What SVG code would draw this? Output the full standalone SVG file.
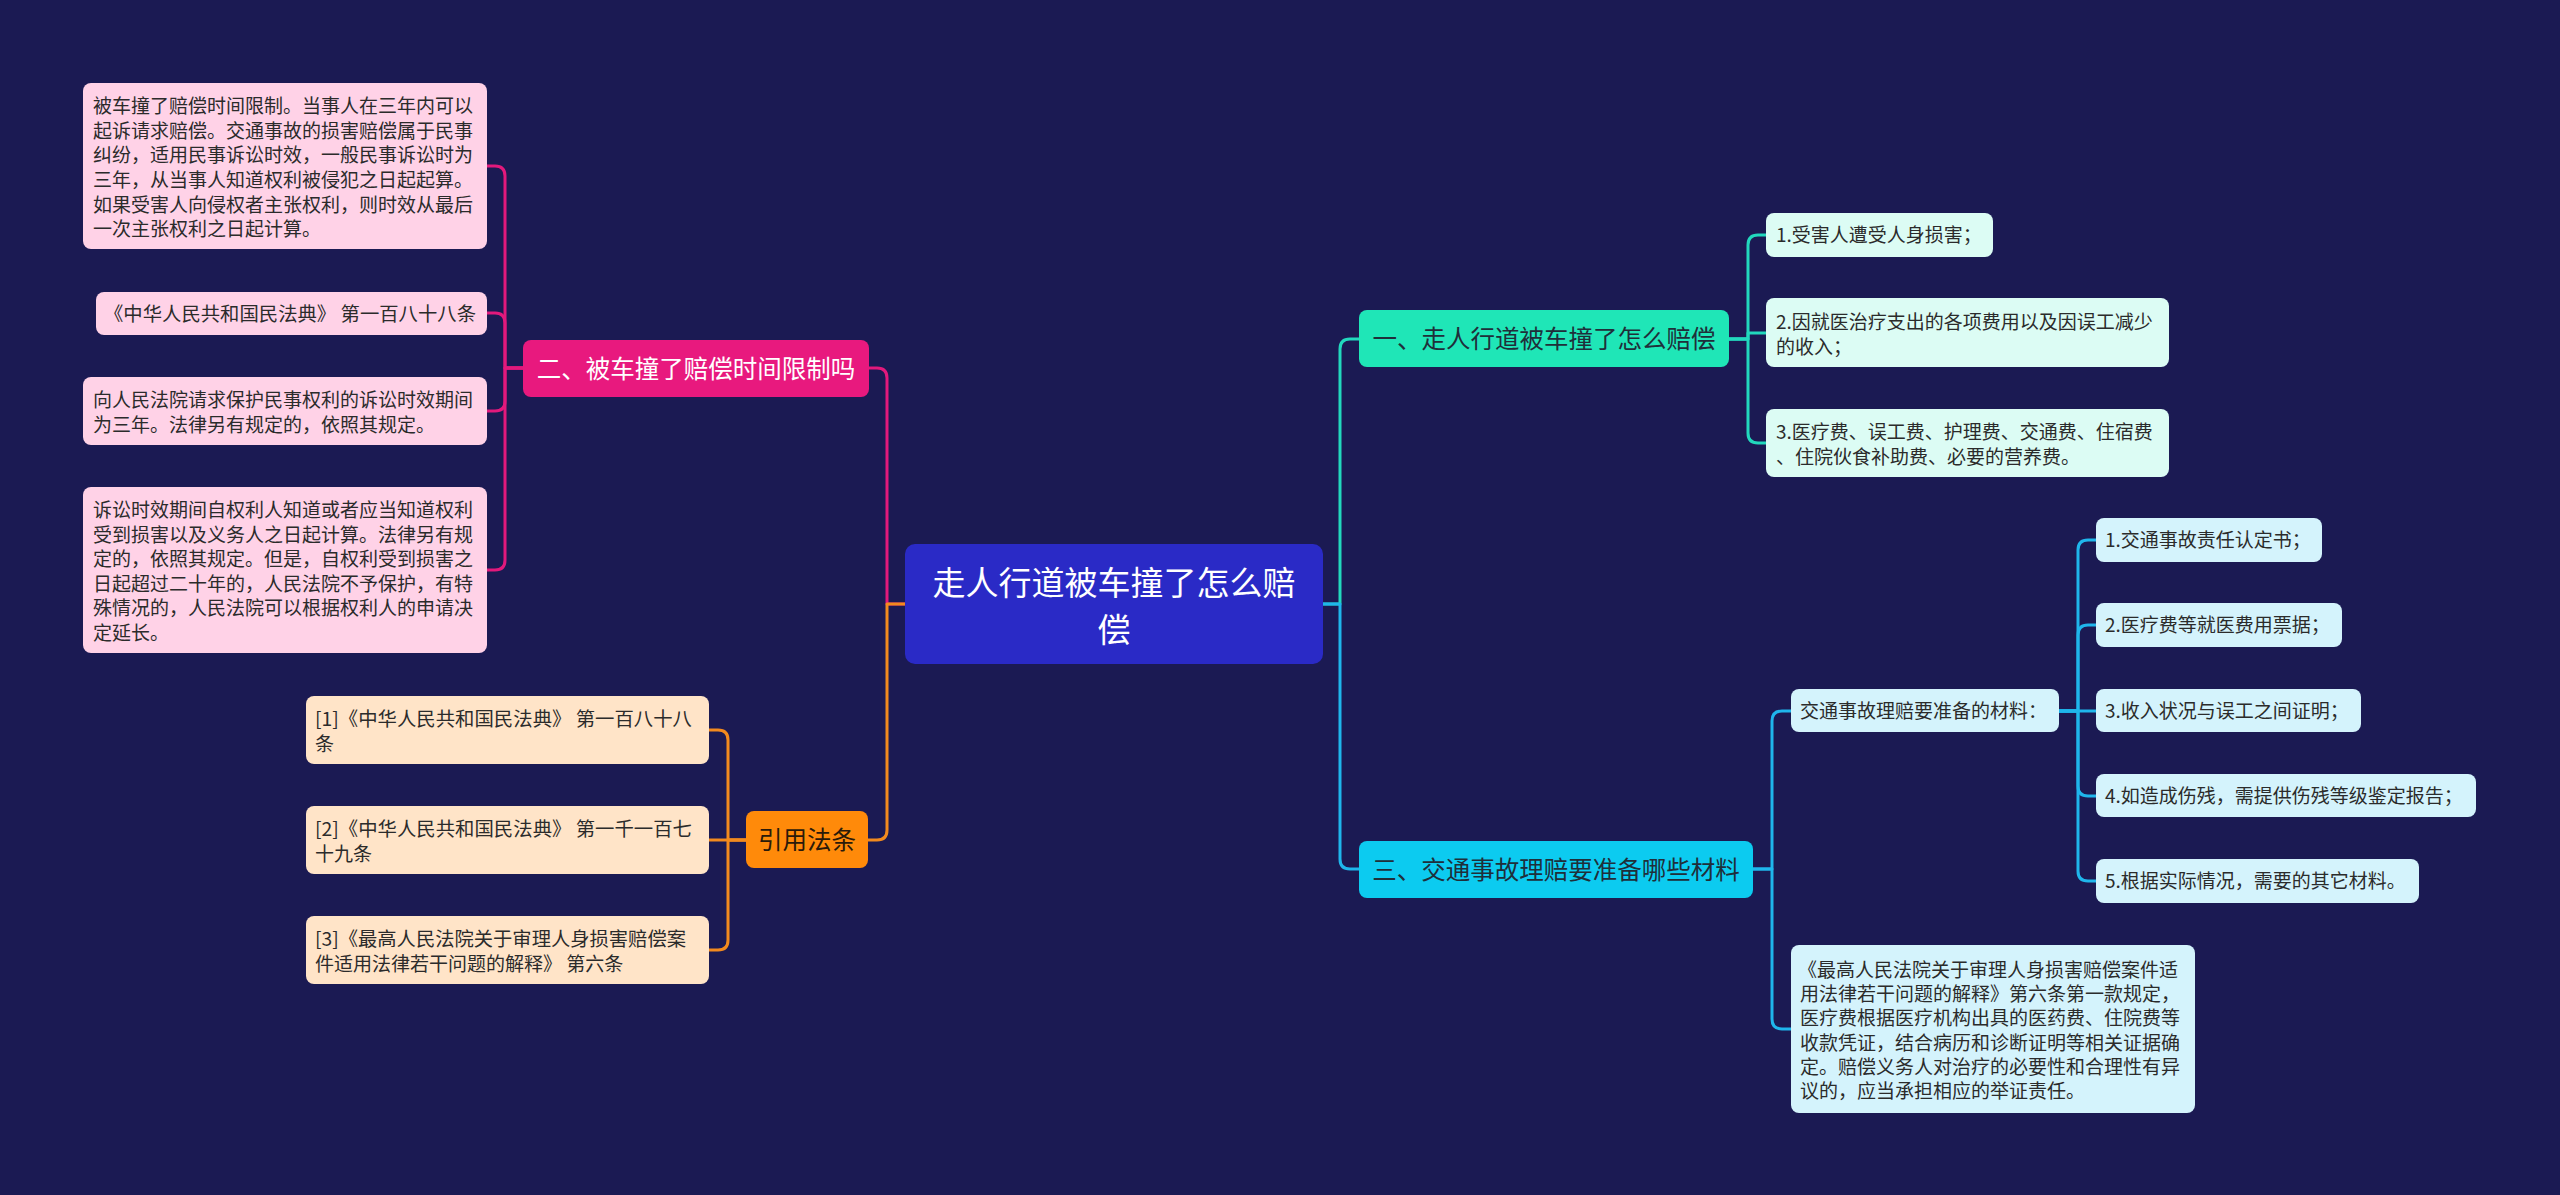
<svg xmlns="http://www.w3.org/2000/svg" width="2560" height="1195" viewBox="0 0 2560 1195">
<style>
  text { font-family: "Noto Sans CJK SC", "Noto Sans", sans-serif; }
  .c { fill: none; stroke-width: 3; stroke-linejoin: round; stroke-linecap: round; }
  .mg { stroke: #e2197c; }
  .or { stroke: #f28a1e; }
  .tl { stroke: #22d8bd; }
  .bl { stroke: #1fb6ec; }
  .t19 { font-size: 19px; fill: #2b2b2b; }
  .big { font-size: 24.5px; text-anchor: middle; }
  .pink { fill: #ffd2e7; }
  .peach { fill: #ffe4c8; }
  .mint { fill: #dcfcf4; }
  .sky { fill: #d4f3fc; }
</style>
<rect x="0" y="0" width="2560" height="1195" fill="#1b1a53"/>

<g id="connectors">
  <path class="c mg" d="M905,604 H887 V378 Q887,368 877,368 H869"/>
  <path class="c or" d="M905,604 H887 V830 Q887,840 877,840 H868"/>
  <path class="c tl" d="M1323,604 H1340 V349 Q1340,339 1350,339 H1359"/>
  <path class="c bl" d="M1323,604 H1340 V859 Q1340,869 1350,869 H1359"/>

  <path class="c mg" d="M523,368 H505 V176 Q505,166 495,166 H487"/>
  <path class="c mg" d="M523,368 H505 V323 Q505,313 495,313 H487"/>
  <path class="c mg" d="M523,368 H505 V401 Q505,411 495,411 H487"/>
  <path class="c mg" d="M523,368 H505 V560 Q505,570 495,570 H487"/>

  <path class="c or" d="M746,840 H728 V740 Q728,730 718,730 H709"/>
  <path class="c or" d="M746,840 H709"/>
  <path class="c or" d="M746,840 H728 V940 Q728,950 718,950 H709"/>

  <path class="c tl" d="M1729,339 H1748 V245 Q1748,235 1758,235 H1766"/>
  <path class="c tl" d="M1729,339 H1748 V333 H1766"/>
  <path class="c tl" d="M1729,339 H1748 V433 Q1748,443 1758,443 H1766"/>

  <path class="c bl" d="M1753,869 H1772 V721 Q1772,711 1782,711 H1791"/>
  <path class="c bl" d="M1753,869 H1772 V1019 Q1772,1029 1782,1029 H1791"/>

  <path class="c bl" d="M2059,711 H2078 V550 Q2078,540 2088,540 H2096"/>
  <path class="c bl" d="M2059,711 H2078 V635 Q2078,625 2088,625 H2096"/>
  <path class="c bl" d="M2059,711 H2096"/>
  <path class="c bl" d="M2059,711 H2078 V786 Q2078,796 2088,796 H2096"/>
  <path class="c bl" d="M2059,711 H2078 V871 Q2078,881 2088,881 H2096"/>
</g>

<g id="root">
  <rect x="905" y="544" width="418" height="120" rx="10" fill="#2a2ac6"/>
  <text x="1114" y="595" font-size="33" fill="#ffffff" text-anchor="middle">走人行道被车撞了怎么赔</text>
  <text x="1114" y="642" font-size="33" fill="#ffffff" text-anchor="middle">偿</text>
</g>

<g id="b2">
  <rect x="523" y="340" width="346" height="57" rx="8" fill="#e8197e"/>
  <text class="big" x="696" y="377.5" fill="#ffffff">二、被车撞了赔偿时间限制吗</text>
</g>
<g id="b2c1">
  <rect class="pink" x="83" y="83" width="404" height="166" rx="8"/>
  <text class="t19" x="93" y="113.2">被车撞了赔偿时间限制。当事人在三年内可以</text>
  <text class="t19" x="93" y="137.8">起诉请求赔偿。交通事故的损害赔偿属于民事</text>
  <text class="t19" x="93" y="162.4">纠纷，适用民事诉讼时效，一般民事诉讼时为</text>
  <text class="t19" x="93" y="187">三年，从当事人知道权利被侵犯之日起起算。</text>
  <text class="t19" x="93" y="211.6">如果受害人向侵权者主张权利，则时效从最后</text>
  <text class="t19" x="93" y="236.2">一次主张权利之日起计算。</text>
</g>
<g id="b2c2">
  <rect class="pink" x="96" y="292" width="391" height="43" rx="8"/>
  <text class="t19" x="104" y="320.5" textLength="372" lengthAdjust="spacingAndGlyphs">《中华人民共和国民法典》 第一百八十八条</text>
</g>
<g id="b2c3">
  <rect class="pink" x="83" y="377" width="404" height="68" rx="8"/>
  <text class="t19" x="93" y="407">向人民法院请求保护民事权利的诉讼时效期间</text>
  <text class="t19" x="93" y="431.5">为三年。法律另有规定的，依照其规定。</text>
</g>
<g id="b2c4">
  <rect class="pink" x="83" y="487" width="404" height="166" rx="8"/>
  <text class="t19" x="93" y="517">诉讼时效期间自权利人知道或者应当知道权利</text>
  <text class="t19" x="93" y="541.5">受到损害以及义务人之日起计算。法律另有规</text>
  <text class="t19" x="93" y="566">定的，依照其规定。但是，自权利受到损害之</text>
  <text class="t19" x="93" y="590.5">日起超过二十年的，人民法院不予保护，有特</text>
  <text class="t19" x="93" y="615">殊情况的，人民法院可以根据权利人的申请决</text>
  <text class="t19" x="93" y="639.5">定延长。</text>
</g>

<g id="ref">
  <rect x="746" y="811" width="122" height="57" rx="8" fill="#ff8a0a"/>
  <text class="big" x="807" y="848.5" fill="#2a1a0a">引用法条</text>
</g>
<g id="ref1">
  <rect class="peach" x="306" y="696" width="403" height="68" rx="8"/>
  <text class="t19" x="315" y="726" textLength="377" lengthAdjust="spacingAndGlyphs">[1]《中华人民共和国民法典》 第一百八十八</text>
  <text class="t19" x="315" y="750.5">条</text>
</g>
<g id="ref2">
  <rect class="peach" x="306" y="806" width="403" height="68" rx="8"/>
  <text class="t19" x="315" y="836" textLength="377" lengthAdjust="spacingAndGlyphs">[2]《中华人民共和国民法典》 第一千一百七</text>
  <text class="t19" x="315" y="860.5">十九条</text>
</g>
<g id="ref3">
  <rect class="peach" x="306" y="916" width="403" height="68" rx="8"/>
  <text class="t19" x="315" y="946" textLength="371" lengthAdjust="spacingAndGlyphs">[3]《最高人民法院关于审理人身损害赔偿案</text>
  <text class="t19" x="315" y="970.5">件适用法律若干问题的解释》 第六条</text>
</g>

<g id="b1">
  <rect x="1359" y="310" width="370" height="57" rx="8" fill="#1fe6b7"/>
  <text class="big" x="1544" y="348" fill="#1f2f3a">一、走人行道被车撞了怎么赔偿</text>
</g>
<g id="b1c1">
  <rect class="mint" x="1766" y="213" width="227" height="44" rx="8"/>
  <text class="t19" x="1776" y="242">1.受害人遭受人身损害；</text>
</g>
<g id="b1c2">
  <rect class="mint" x="1766" y="298" width="403" height="69" rx="8"/>
  <text class="t19" x="1776" y="329">2.因就医治疗支出的各项费用以及因误工减少</text>
  <text class="t19" x="1776" y="354">的收入；</text>
</g>
<g id="b1c3">
  <rect class="mint" x="1766" y="409" width="403" height="68" rx="8"/>
  <text class="t19" x="1776" y="439">3.医疗费、误工费、护理费、交通费、住宿费</text>
  <text class="t19" x="1776" y="464">、住院伙食补助费、必要的营养费。</text>
</g>

<g id="b3">
  <rect x="1359" y="841" width="394" height="57" rx="8" fill="#0ccbf0"/>
  <text class="big" x="1556" y="879" fill="#1f2f3a">三、交通事故理赔要准备哪些材料</text>
</g>
<g id="b3c1">
  <rect class="sky" x="1791" y="689" width="268" height="43" rx="8"/>
  <text class="t19" x="1800" y="718">交通事故理赔要准备的材料：</text>
</g>
<g id="m1">
  <rect class="sky" x="2096" y="518" width="226" height="44" rx="8"/>
  <text class="t19" x="2105" y="547">1.交通事故责任认定书；</text>
</g>
<g id="m2">
  <rect class="sky" x="2096" y="603" width="246" height="44" rx="8"/>
  <text class="t19" x="2105" y="632">2.医疗费等就医费用票据；</text>
</g>
<g id="m3">
  <rect class="sky" x="2096" y="689" width="265" height="43" rx="8"/>
  <text class="t19" x="2105" y="718">3.收入状况与误工之间证明；</text>
</g>
<g id="m4">
  <rect class="sky" x="2096" y="774" width="380" height="43" rx="8"/>
  <text class="t19" x="2105" y="803">4.如造成伤残，需提供伤残等级鉴定报告；</text>
</g>
<g id="m5">
  <rect class="sky" x="2096" y="859" width="323" height="44" rx="8"/>
  <text class="t19" x="2105" y="888">5.根据实际情况，需要的其它材料。</text>
</g>
<g id="b3c2">
  <rect class="sky" x="1791" y="945" width="404" height="168" rx="8"/>
  <text class="t19" x="1798" y="977.2">《最高人民法院关于审理人身损害赔偿案件适</text>
  <text class="t19" x="1800" y="1001.3">用法律若干问题的解释》第六条第一款规定，</text>
  <text class="t19" x="1800" y="1025.4">医疗费根据医疗机构出具的医药费、住院费等</text>
  <text class="t19" x="1800" y="1049.5">收款凭证，结合病历和诊断证明等相关证据确</text>
  <text class="t19" x="1800" y="1073.6">定。赔偿义务人对治疗的必要性和合理性有异</text>
  <text class="t19" x="1800" y="1097.7">议的，应当承担相应的举证责任。</text>
</g>
</svg>
